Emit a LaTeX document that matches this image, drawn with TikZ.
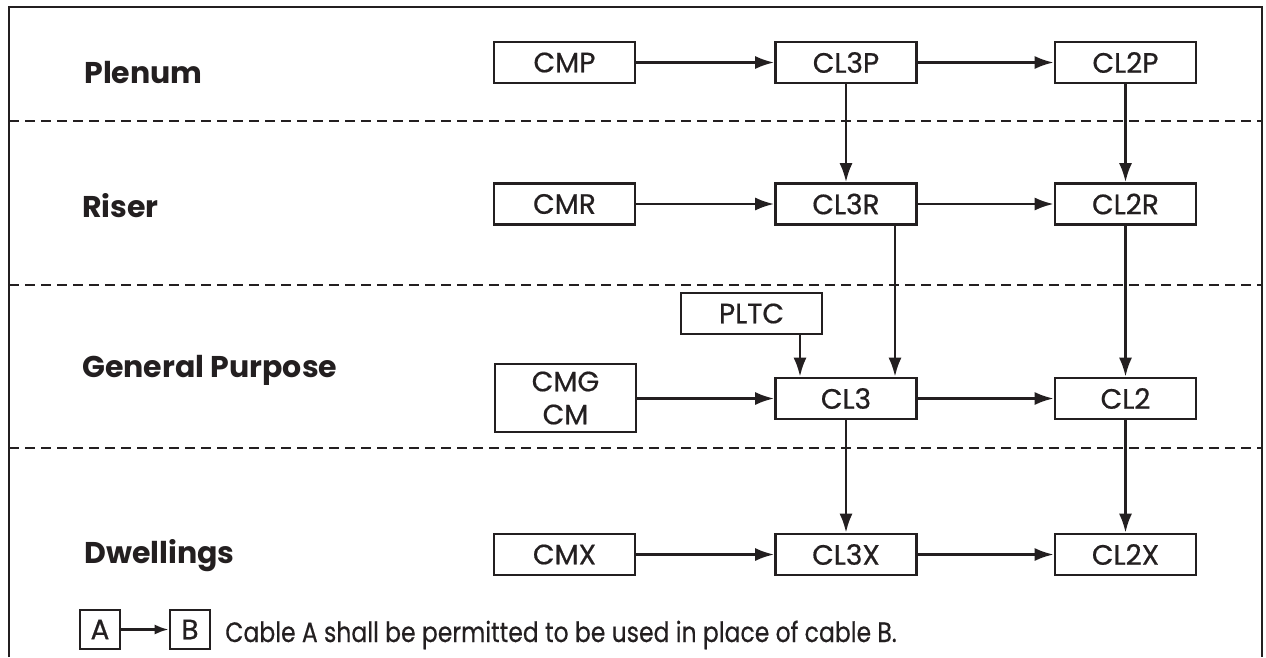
\documentclass[tikz,border=0pt]{standalone}
\usepackage{fontspec}
\setmainfont{Poppins}
\newfontfamily\boxfont{Poppins}[FakeBold=0.6]
\newfontfamily\legfont{Poppins}[FakeStretch=0.84,FakeBold=0.4]
\usetikzlibrary{arrows.meta}
\definecolor{ink}{RGB}{35,31,32}
\begin{document}
\begin{tikzpicture}[x=1pt,y=-1pt,line width=2.6pt,draw=ink,
  box/.style={draw=ink,line width=2.6pt,minimum width=141pt,minimum height=41pt,inner sep=0pt,
    text=ink,font=\boxfont\fontsize{28}{33}\selectfont,align=center},
  smallbox/.style={box,minimum width=40pt,minimum height=39pt},
  arr/.style={draw=ink,line width=2.6pt,-{Latex[length=19pt,width=13pt]}},
  lab/.style={anchor=base west,text=ink,inner sep=0pt,font=\bfseries\fontsize{30}{33}\selectfont},
  sep/.style={draw=ink,line width=2.6pt,dash pattern=on 10pt off 6pt}]
\useasboundingbox (0,0) rectangle (1266,657);
% frame
\draw (9,657) -- (9,7) -- (1262,7) -- (1262,657);
\draw[sep] (9,121) -- (1262,121);
\draw[sep] (9,285) -- (1262,285);
\draw[sep] (9,448) -- (1262,448);
% row labels
\node[lab] (lplenum) at (83,83) {Plenum};
\node[lab] (lriser) at (81,217) {Riser};
\node[lab] (lgp) at (81,377) {General Purpose};
\node[lab] (ldw) at (83,563) {Dwellings};
% boxes
\node[box] (cmp) at (564.5,62.5) {CMP};
\node[box] (cl3p) at (846,62.5) {CL3P};
\node[box] (cl2p) at (1125.5,62.5) {CL2P};
\node[box] (cmr) at (564.5,204) {CMR};
\node[box] (cl3r) at (846,204) {CL3R};
\node[box] (cl2r) at (1125.5,204) {CL2R};
\node[box,minimum height=68pt] (cmg) at (565.5,398) {CMG\\CM};
\node[box] (pltc) at (751.5,313.5) {PLTC};
\node[box] (cl3) at (846,398.5) {CL3};
\node[box] (cl2) at (1125.5,398.5) {CL2};
\node[box] (cmx) at (564.5,554.5) {CMX};
\node[box] (cl3x) at (846,554.5) {CL3X};
\node[box] (cl2x) at (1125.5,554.5) {CL2X};
% horizontal arrows
\draw[arr] (cmp) -- (cl3p);
\draw[arr] (cl3p) -- (cl2p);
\draw[arr] (cmr) -- (cl3r);
\draw[arr] (cl3r) -- (cl2r);
\draw[arr] (cmg.east |- cl3) -- (cl3);
\draw[arr] (cl3) -- (cl2);
\draw[arr] (cmx) -- (cl3x);
\draw[arr] (cl3x) -- (cl2x);
% vertical arrows
\draw[arr] (cl3p) -- (cl3r);
\draw[arr] (cl2p) -- (cl2r);
\draw[arr] ([xshift=49pt]cl3r.south) -- ([xshift=49pt]cl3.north);
\draw[arr] ([xshift=48.5pt]pltc.south) -- ([xshift=48.5pt]pltc.south |- cl3.north);
\draw[arr] (cl2r) -- (cl2);
\draw[arr] (cl3) -- (cl3x);
\draw[arr] (cl2) -- (cl2x);
% legend
\node[smallbox] (la) at (100,629.5) {A};
\node[smallbox] (lb) at (190,629.5) {B};
\draw[arr,-{Latex[length=14pt,width=10pt]}] (la) -- (lb);
\node[anchor=base west,inner sep=0pt,text=ink,font=\legfont\fontsize{28}{33}\selectfont] (ltext) at (224,642) {Cable A shall be permitted to be used in place of cable B.};
\end{tikzpicture}
\end{document}
